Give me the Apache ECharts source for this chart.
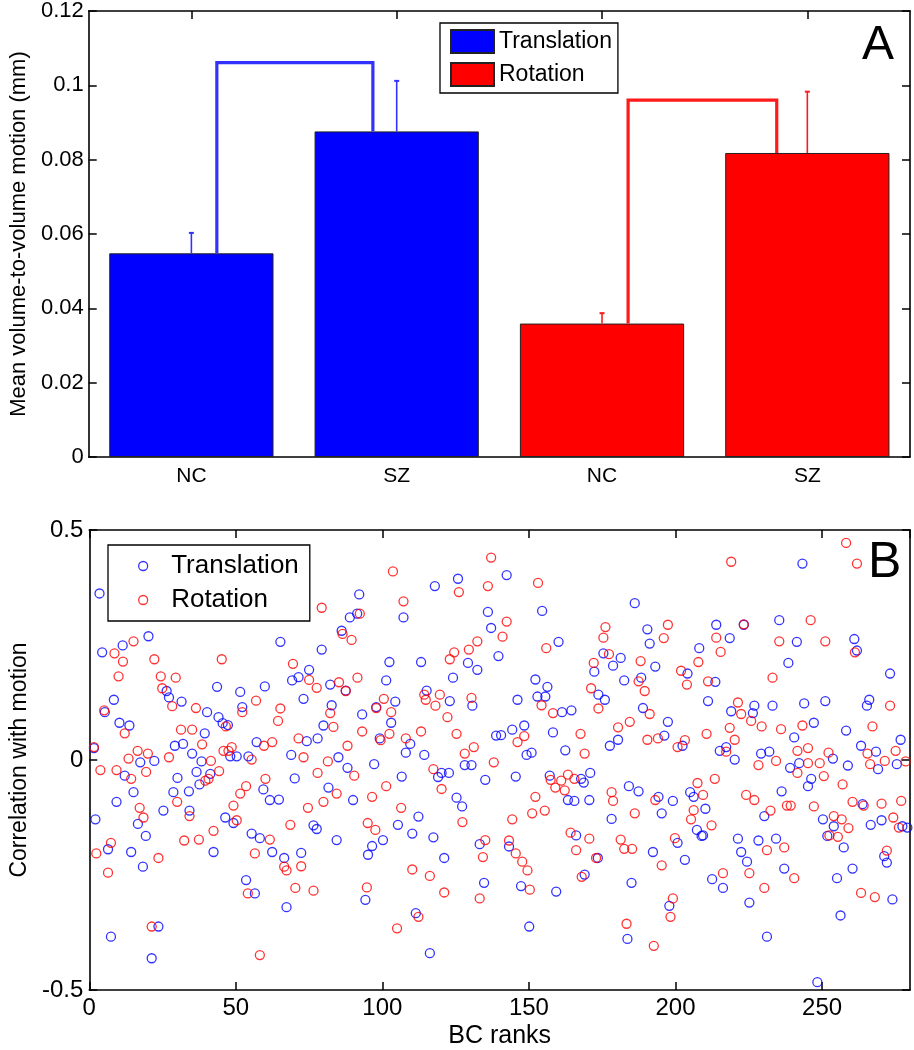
<!DOCTYPE html>
<html><head><meta charset="utf-8">
<script src="https://cdn.jsdelivr.net/npm/echarts@6/dist/echarts.min.js"></script>
<style>html,body{margin:0;padding:0;background:#fff}#c{width:914px;height:1050px}</style>
</head><body><div id="c"></div>
<script>
// ---------- Panel A data ----------
const groups = ['NC', 'SZ', 'NC', 'SZ'];
const translationMean = [0.0548, 0.0876, null, null];
const rotationMean = [null, null, 0.0359, 0.0818];
const errorTop = [0.0603, 0.1012, 0.0387, 0.0983];
const bracketFrom = [0, 2];
const bracketTo = [1, 3];
const bracketPeak = [0.1061, 0.0960];

// ---------- Panel B data: [BC rank, correlation] ----------
const translationPoints = [
[3.5,0.362],[20.2,0.269],[4.4,0.234],[11.4,0.249],[8.4,0.131],[26.4,0.150],[27.2,0.136],[31.5,0.127],[5.3,0.104],[10.3,0.081],[13.7,0.075],[1.6,0.026],[29.2,0.031],[32.0,0.035],[17.4,-0.005],[22.2,-0.002],[12.1,-0.034],[15.1,-0.070],[30.1,-0.039],[28.7,-0.070],[9.3,-0.091],[2.1,-0.129],[25.3,-0.110],[16.6,-0.139],[19.3,-0.165],[6.4,-0.194],[14.3,-0.200],[18.3,-0.232],[23.6,-0.362],[7.4,-0.384],[21.3,-0.431],
[65.2,0.257],[43.6,0.159],[51.5,0.148],[59.9,0.160],[52.2,0.115],[40.2,0.104],[44.1,0.093],[45.5,0.080],[47.3,0.076],[39.4,0.058],[57.1,0.039],[35.1,0.014],[48.1,0.008],[50.3,0.008],[54.3,0.008],[38.3,-0.003],[36.6,-0.026],[41.3,-0.030],[37.6,-0.053],[59.4,-0.064],[61.6,-0.087],[64.7,-0.086],[34.0,-0.068],[34.2,-0.110],[46.4,-0.125],[49.2,-0.137],[55.4,-0.160],[58.2,-0.170],[62.4,-0.200],[42.4,-0.200],[66.5,-0.213],[53.5,-0.261],[56.5,-0.290],[67.3,-0.320],
[92.1,0.360],[88.9,0.310],[91.4,0.318],[86.1,0.281],[79.3,0.240],[102.4,0.213],[101.3,0.173],[75.0,0.196],[71.4,0.180],[69.2,0.173],[82.2,0.164],[87.5,0.151],[73.1,0.133],[82.7,0.119],[93.1,0.099],[97.9,0.115],[79.9,0.075],[77.9,0.047],[74.2,0.041],[103.0,0.081],[99.1,0.047],[85.0,0.006],[88.1,-0.017],[97.2,-0.009],[68.9,0.011],[70.1,-0.040],[81.6,-0.060],[90.0,-0.087],[76.5,-0.142],[77.6,-0.150],[84.4,-0.174],[100.2,-0.174],[96.5,-0.187],[95.1,-0.206],[72.3,-0.202],[94.2,-0.304],
[125.8,0.394],[117.9,0.378],[107.2,0.310],[136.0,0.322],[137.1,0.287],[113.2,0.213],[129.2,0.211],[132.4,0.196],[124.1,0.179],[115.1,0.151],[123.0,0.128],[130.7,0.118],[104.4,0.127],[109.5,0.035],[108.0,0.016],[114.3,0.011],[138.8,0.053],[128.1,-0.011],[130.4,-0.011],[120.2,-0.028],[122.7,-0.028],[119.0,-0.037],[135.1,-0.043],[106.6,-0.036],[125.3,-0.082],[127.2,-0.101],[112.3,-0.123],[105.3,-0.141],[110.2,-0.160],[117.4,-0.168],[121.1,-0.213],[133.2,-0.183],[134.7,-0.267],[111.4,-0.333],[116.2,-0.420],
[142.4,0.402],[154.5,0.324],[160.1,0.257],[139.6,0.226],[152.2,0.175],[152.9,0.138],[155.6,0.138],[156.3,0.159],[146.1,0.131],[144.3,0.066],[148.4,0.075],[161.3,0.104],[164.5,0.108],[158.2,0.060],[140.5,0.054],[149.2,0.011],[150.9,0.016],[162.4,0.021],[145.5,-0.036],[157.1,-0.034],[170.9,-0.028],[167.8,-0.041],[168.7,-0.049],[163.3,-0.087],[165.5,-0.089],[170.6,-0.087],[172.3,0.192],[166.1,-0.164],[143.2,-0.188],[169.0,-0.249],[147.3,-0.274],[159.3,-0.286],[150.1,-0.362],[173.5,-0.213],
[186.1,0.341],[190.4,0.284],[191.2,0.253],[208.1,0.243],[175.4,0.232],[178.7,0.205],[181.3,0.222],[182.5,0.173],[188.3,0.179],[193.1,0.203],[204.1,0.188],[173.7,0.142],[175.9,0.131],[188.9,0.113],[197.4,0.083],[196.2,0.053],[180.4,0.044],[177.6,0.031],[202.4,0.031],[184.1,-0.057],[187.4,-0.068],[194.2,-0.080],[199.1,-0.089],[205.0,-0.070],[206.2,-0.080],[178.2,-0.128],[195.3,-0.116],[207.3,-0.152],[208.9,-0.165],[200.7,-0.180],[192.3,-0.200],[203.2,-0.217],[185.0,-0.267],[197.9,-0.317],[183.6,-0.389],
[243.3,0.427],[213.9,0.294],[218.5,0.265],[223.3,0.294],[235.4,0.304],[241.4,0.257],[238.5,0.211],[213.6,0.170],[211.1,0.128],[219.0,0.106],[226.9,0.118],[226.4,0.102],[233.1,0.118],[243.9,0.123],[240.5,0.049],[215.1,0.020],[217.3,0.028],[220.2,0.001],[229.2,0.014],[232.0,0.018],[239.1,-0.017],[242.2,-0.007],[236.2,-0.068],[210.2,-0.106],[230.3,-0.122],[209.4,-0.164],[221.3,-0.171],[228.3,-0.175],[234.3,-0.171],[222.4,-0.200],[224.4,-0.221],[237.1,-0.236],[212.5,-0.259],[216.2,-0.278],[225.2,-0.310],[231.2,-0.384],
[261.0,0.263],[261.9,0.238],[273.2,0.188],[251.1,0.128],[266.1,0.131],[265.3,0.118],[247.2,0.081],[258.2,0.064],[276.8,0.044],[263.3,0.031],[268.4,0.018],[253.7,0.003],[258.8,-0.012],[275.5,-0.009],[269.1,-0.020],[246.3,-0.041],[245.2,-0.057],[263.8,-0.096],[250.3,-0.129],[266.6,-0.141],[270.3,-0.131],[254.0,-0.144],[251.8,-0.165],[277.4,-0.144],[279.1,-0.147],[257.4,-0.190],[271.2,-0.209],[272.1,-0.223],[260.4,-0.236],[255.1,-0.257],[274.0,-0.303],[256.3,-0.338],[248.4,-0.483]
];
const rotationPoints = [
[15.1,0.258],[8.6,0.232],[11.5,0.214],[22.2,0.219],[10.0,0.182],[24.4,0.182],[29.5,0.179],[24.9,0.156],[28.3,0.117],[5.1,0.108],[12.1,0.058],[31.3,0.066],[1.6,0.028],[16.5,0.020],[13.4,0.003],[20.0,0.014],[27.2,0.006],[3.8,-0.022],[9.3,-0.022],[19.4,-0.026],[14.3,-0.041],[30.0,-0.091],[17.2,-0.104],[18.5,-0.125],[7.4,-0.180],[2.4,-0.203],[23.6,-0.213],[32.4,-0.175],[6.4,-0.245],[21.3,-0.362],
[45.2,0.219],[56.9,0.129],[65.2,0.112],[36.4,0.113],[52.2,0.104],[64.4,0.085],[35.1,0.066],[38.5,0.034],[46.6,0.073],[47.5,0.020],[48.6,0.028],[45.8,0.020],[55.4,0.001],[59.6,0.031],[62.4,0.039],[41.5,-0.002],[44.3,-0.024],[39.6,-0.045],[40.7,-0.041],[60.1,-0.041],[53.5,-0.057],[51.5,-0.073],[49.2,-0.099],[34.2,-0.122],[50.3,-0.131],[42.4,-0.154],[37.4,-0.173],[61.6,-0.173],[56.5,-0.203],[66.5,-0.232],[67.3,-0.240],[54.1,-0.290],[58.2,-0.424],
[103.6,0.410],[79.3,0.331],[92.3,0.318],[86.4,0.274],[89.5,0.261],[69.5,0.209],[75.0,0.174],[77.6,0.157],[85.2,0.169],[91.5,0.179],[87.5,0.150],[100.5,0.133],[97.9,0.113],[82.2,0.102],[83.3,0.072],[103.0,0.104],[102.4,0.057],[93.1,0.062],[99.4,0.043],[88.1,0.031],[71.4,0.047],[73.1,0.006],[81.4,-0.003],[77.9,-0.028],[90.4,-0.034],[101.3,-0.057],[84.4,-0.073],[79.9,-0.091],[96.5,-0.080],[74.6,-0.104],[68.6,-0.141],[95.0,-0.137],[97.6,-0.152],[72.3,-0.231],[70.3,-0.278],[76.5,-0.284],[94.7,-0.277],
[137.1,0.440],[136.0,0.378],[107.2,0.345],[126.1,0.365],[132.4,0.258],[129.5,0.240],[124.5,0.234],[123.0,0.219],[114.3,0.142],[114.8,0.131],[119.6,0.142],[118.1,0.118],[122.2,0.093],[130.4,0.135],[125.3,0.057],[113.2,0.062],[108.0,0.047],[131.2,0.028],[128.1,0.014],[117.4,-0.020],[120.2,-0.063],[138.0,-0.005],[106.4,-0.104],[127.3,-0.135],[135.1,-0.174],[134.3,-0.211],[110.2,-0.238],[116.2,-0.252],[121.1,-0.288],[133.2,-0.301],[112.3,-0.341],[105.0,-0.366],
[153.1,0.385],[142.4,0.301],[141.0,0.268],[155.9,0.243],[172.1,0.211],[171.2,0.156],[154.3,0.119],[158.2,0.102],[167.6,0.057],[148.4,0.052],[146.1,0.039],[169.0,0.014],[157.4,-0.043],[159.0,-0.060],[161.0,-0.045],[162.2,-0.066],[163.3,-0.032],[165.5,-0.041],[152.2,-0.080],[151.1,-0.116],[155.4,-0.110],[144.3,-0.129],[143.2,-0.175],[145.5,-0.203],[147.7,-0.221],[149.5,-0.240],[150.3,-0.282],[164.2,-0.158],[166.1,-0.196],[170.6,-0.171],[172.9,-0.213],[168.0,-0.254],
[176.1,0.289],[175.4,0.266],[197.4,0.294],[196.0,0.265],[177.3,0.230],[188.1,0.215],[201.9,0.194],[207.8,0.213],[203.9,0.164],[187.4,0.171],[189.5,0.150],[173.7,0.112],[191.2,0.100],[184.4,0.083],[180.4,0.071],[190.4,0.044],[194.0,0.047],[200.7,0.028],[203.2,0.043],[178.2,-0.070],[178.7,-0.089],[207.5,-0.050],[193.1,-0.087],[186.1,-0.116],[206.2,-0.109],[205.3,-0.129],[181.3,-0.173],[182.5,-0.193],[185.2,-0.193],[199.8,-0.170],[195.3,-0.229],[199.1,-0.301],[198.3,-0.341],[183.3,-0.356],[192.6,-0.404],
[219.0,0.431],[223.3,0.295],[213.9,0.266],[215.4,0.235],[235.4,0.258],[233.1,0.179],[211.1,0.171],[221.3,0.125],[222.4,0.100],[225.8,0.085],[229.4,0.073],[218.5,0.070],[236.0,0.067],[243.3,0.075],[220.2,0.044],[210.6,0.057],[217.3,0.018],[228.3,-0.011],[234.3,-0.002],[241.6,0.020],[241.6,-0.028],[213.4,-0.041],[209.4,-0.076],[224.1,-0.076],[226.9,-0.087],[232.4,-0.110],[238.0,-0.099],[239.3,-0.099],[212.3,-0.142],[231.2,-0.196],[237.1,-0.190],[240.5,-0.257],[216.2,-0.246],[225.2,-0.246],[230.3,-0.278],
[258.2,0.472],[261.9,0.427],[246.1,0.304],[251.1,0.258],[261.2,0.234],[273.2,0.118],[267.2,0.073],[245.2,0.026],[252.2,0.016],[245.2,-0.007],[249.2,-0.007],[265.5,0.014],[266.4,-0.009],[271.4,-0.002],[275.1,0.020],[278.5,-0.003],[250.6,-0.035],[257.0,-0.053],[247.2,-0.101],[260.4,-0.091],[264.2,-0.099],[270.3,-0.095],[277.0,-0.089],[254.0,-0.122],[256.7,-0.129],[274.3,-0.125],[259.0,-0.148],[276.2,-0.147],[252.5,-0.164],[255.4,-0.167],[272.1,-0.197],[263.3,-0.289],[268.0,-0.298]
];

// ---------- styling ----------
const FONT = 'Liberation Sans, Arial, Helvetica, sans-serif';
const BLUE = '#0000ff', RED = '#ff0000';
const BLUE_LINE = '#3232ff', RED_LINE = '#ff1a1a';
const axisLine = { show: true, onZero: false, lineStyle: { color: '#000', width: 1.6 } };
const tickIn = { show: true, inside: true, length: 8, lineStyle: { color: '#000', width: 1.5 } };
const fmt = v => String(+(+v).toFixed(2));

const meanValues = groups.map((g, i) => translationMean[i] != null ? translationMean[i] : rotationMean[i]);
const errorData = errorTop.map((t, i) => [i, meanValues[i], t]);
const bracketData = bracketFrom.map((f, k) => [f, bracketTo[k], meanValues[f], bracketPeak[k], meanValues[bracketTo[k]]]);
const bracketFromOffset = [0.124, 0.127];  // fraction of category band
const bracketToOffset = [-0.116, -0.149];

const chart = echarts.init(document.getElementById('c'), null, { renderer: 'canvas' });
chart.setOption({
  animation: false,
  backgroundColor: '#fff',
  textStyle: { fontFamily: FONT, color: '#000' },
  title: [
    { text: 'A', left: 862, top: 22, padding: 0, textStyle: { fontFamily: FONT, fontSize: 48, fontWeight: 'normal', color: '#000' } },
    { text: 'B', left: 868, top: 538, padding: 0, textStyle: { fontFamily: FONT, fontSize: 50, fontWeight: 'normal', color: '#000' } }
  ],
  grid: [
    { left: 84, right: 4, top: 10, height: 447 },
    { left: 83, right: 4, top: 530, height: 460 }
  ],
  legend: [
    {
      data: ['Translation', 'Rotation'], orient: 'vertical', left: 440, top: 23,
      icon: 'rect', itemWidth: 43, itemHeight: 23, itemGap: 8, padding: [6, 6, 6, 10],
      backgroundColor: '#fff', borderColor: '#000', borderWidth: 1.3, selectedMode: false,
      textStyle: { fontFamily: FONT, fontSize: 23, color: '#000', lineHeight: 23 }
    },
    {
      data: ['Translation (r)', 'Rotation (r)'], orient: 'vertical', left: 108, top: 545,
      formatter: n => n.replace(' (r)', ''),
      itemWidth: 46, itemHeight: 9, itemGap: 8, padding: [8, 11, 8, 30],
      backgroundColor: '#fff', borderColor: '#000', borderWidth: 1.3, selectedMode: false,
      itemStyle: { borderWidth: 1.3 },
      textStyle: { fontFamily: FONT, fontSize: 26, color: '#000', lineHeight: 26 }
    }
  ],
  xAxis: [
    { gridIndex: 0, type: 'category', data: groups, position: 'bottom', axisLine,
      axisTick: Object.assign({ alignWithLabel: true }, tickIn),
      axisLabel: { color: '#000', fontFamily: FONT, fontSize: 21, margin: 9 }, splitLine: { show: false } },
    { gridIndex: 0, type: 'category', data: groups, position: 'top', axisLine,
      axisTick: Object.assign({ alignWithLabel: true }, tickIn),
      axisLabel: { show: false }, splitLine: { show: false } },
    { gridIndex: 1, type: 'value', min: 0, max: 280, interval: 50, position: 'bottom', axisLine, axisTick: tickIn,
      axisLabel: { color: '#000', fontFamily: FONT, fontSize: 24, margin: 6, showMaxLabel: false },
      splitLine: { show: false },
      name: 'BC ranks', nameLocation: 'middle', nameGap: 34,
      nameTextStyle: { color: '#000', fontFamily: FONT, fontSize: 25 } },
    { gridIndex: 1, type: 'value', min: 0, max: 280, interval: 50, position: 'top', axisLine, axisTick: tickIn,
      axisLabel: { show: false }, splitLine: { show: false } }
  ],
  yAxis: [
    { gridIndex: 0, type: 'value', min: 0, max: 0.12, interval: 0.02, position: 'left', axisLine, axisTick: tickIn,
      axisLabel: { color: '#000', fontFamily: FONT, fontSize: 22, margin: 5, formatter: fmt },
      splitLine: { show: false },
      name: 'Mean volume-to-volume motion (mm)', nameLocation: 'middle', nameGap: 56,
      nameTextStyle: { color: '#000', fontFamily: FONT, fontSize: 22 } },
    { gridIndex: 0, type: 'value', min: 0, max: 0.12, interval: 0.02, position: 'right', axisLine, axisTick: tickIn,
      axisLabel: { show: false }, splitLine: { show: false } },
    { gridIndex: 1, type: 'value', min: -0.5, max: 0.5, interval: 0.5, position: 'left', axisLine, axisTick: tickIn,
      axisLabel: { color: '#000', fontFamily: FONT, fontSize: 24, margin: 6, formatter: fmt },
      splitLine: { show: false },
      name: 'Correlation with motion', nameLocation: 'middle', nameGap: 50,
      nameTextStyle: { color: '#000', fontFamily: FONT, fontSize: 23 } },
    { gridIndex: 1, type: 'value', min: -0.5, max: 0.5, interval: 0.5, position: 'right', axisLine, axisTick: tickIn,
      axisLabel: { show: false }, splitLine: { show: false } }
  ],
  series: [
    { name: 'Translation', type: 'bar', xAxisIndex: 0, yAxisIndex: 0, data: translationMean,
      barWidth: '80%', barGap: '-100%', itemStyle: { color: BLUE, borderColor: '#222', borderWidth: 1 } },
    { name: 'Rotation', type: 'bar', xAxisIndex: 0, yAxisIndex: 0, data: rotationMean,
      barWidth: '80%', barGap: '-100%', itemStyle: { color: RED, borderColor: '#222', borderWidth: 1 } },
    { type: 'custom', xAxisIndex: 0, yAxisIndex: 0, data: errorData, z: 5,
      renderItem: (params, api) => {
        const i = params.dataIndex;
        const c = i < 2 ? BLUE_LINE : RED_LINE;
        const base = api.coord([api.value(0), api.value(1)]);
        const top = api.coord([api.value(0), api.value(2)]);
        return { type: 'group', children: [
          { type: 'line', shape: { x1: base[0], y1: base[1], x2: top[0], y2: top[1] }, style: { stroke: c, lineWidth: 1.6 } },
          { type: 'line', shape: { x1: top[0] - 2.5, y1: top[1], x2: top[0] + 2.5, y2: top[1] }, style: { stroke: c, lineWidth: 2 } }
        ] };
      } },
    { type: 'custom', xAxisIndex: 0, yAxisIndex: 0, data: bracketData, z: 5,
      renderItem: (params, api) => {
        const k = params.dataIndex;
        const c = k === 0 ? BLUE_LINE : RED_LINE;
        const band = api.size([1, 0])[0];
        const a = api.coord([api.value(0), api.value(2)]);
        const ap = api.coord([api.value(0), api.value(3)]);
        const b = api.coord([api.value(1), api.value(4)]);
        const bp = api.coord([api.value(1), api.value(3)]);
        const d1 = band * bracketFromOffset[k], d2 = band * bracketToOffset[k];
        return { type: 'polyline', shape: { points: [[a[0] + d1, a[1]], [ap[0] + d1, ap[1]], [bp[0] + d2, bp[1]], [b[0] + d2, b[1]]] },
          style: { stroke: c, lineWidth: 3.2, fill: null, lineJoin: 'miter' } };
      } },
    { name: 'Translation (r)', type: 'scatter', xAxisIndex: 2, yAxisIndex: 2, data: translationPoints,
      symbol: 'circle', symbolSize: 9,
      itemStyle: { color: 'rgba(0,0,0,0)', borderColor: BLUE, borderWidth: 1.3 } },
    { name: 'Rotation (r)', type: 'scatter', xAxisIndex: 2, yAxisIndex: 2, data: rotationPoints,
      symbol: 'circle', symbolSize: 9,
      itemStyle: { color: 'rgba(0,0,0,0)', borderColor: RED, borderWidth: 1.3 } }
  ]
});
</script>
</body></html>
